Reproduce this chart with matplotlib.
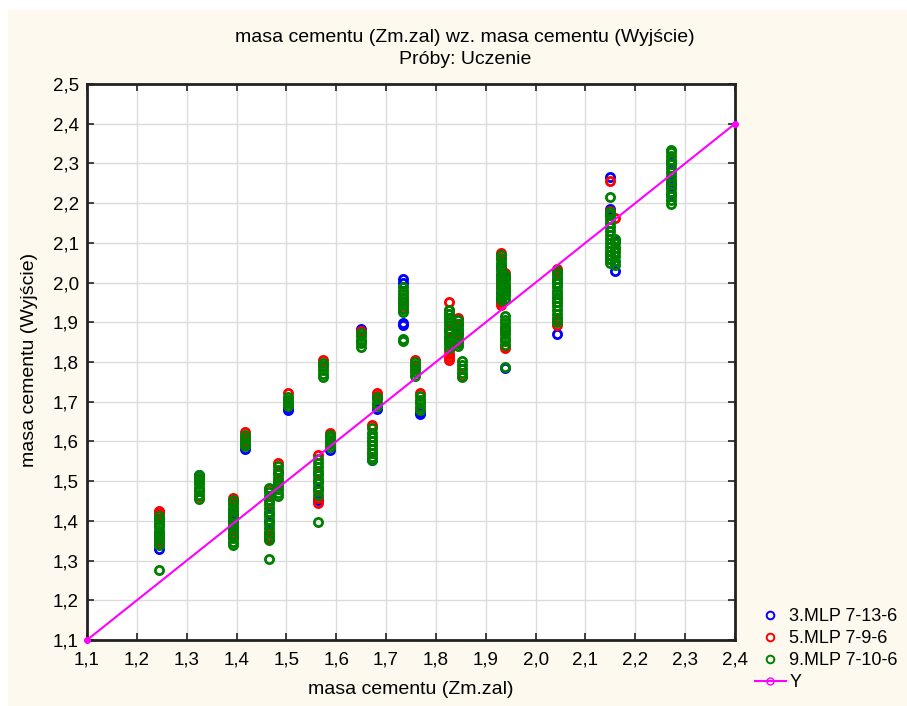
import numpy as np
import matplotlib
matplotlib.use('Agg')
import matplotlib.pyplot as plt
from matplotlib.lines import Line2D
from matplotlib.patches import Rectangle
from matplotlib.ticker import FuncFormatter, MultipleLocator

plt.rcParams['font.family'] = ['Liberation Sans', 'DejaVu Sans']

# x position of each column of points (target value)
col_x = [1.245, 1.325, 1.392, 1.417, 1.465, 1.484, 1.503, 1.563, 1.573, 1.587,
         1.649, 1.671, 1.681, 1.733, 1.759, 1.769, 1.826, 1.845, 1.852, 1.930,
         1.9385, 1.939, 2.042, 2.149, 2.159, 2.271]

# 9.MLP 7-10-6 (green)
green_y = [
    [1.338, 1.347, 1.356, 1.366, 1.375, 1.384, 1.393, 1.402, 1.412, 1.277],
    [1.456, 1.465, 1.474, 1.483, 1.492, 1.500, 1.508, 1.515],
    [1.338, 1.348, 1.357, 1.367, 1.376, 1.386, 1.395, 1.405, 1.414, 1.424, 1.433, 1.443, 1.452],
    [1.588, 1.597, 1.606, 1.615],
    [1.352, 1.362, 1.372, 1.382, 1.392, 1.402, 1.412, 1.422, 1.432, 1.442, 1.452, 1.462, 1.472, 1.483, 1.304],
    [1.462, 1.471, 1.480, 1.490, 1.499, 1.509, 1.518, 1.528, 1.538],
    [1.688, 1.697, 1.705, 1.712],
    [1.465, 1.475, 1.485, 1.495, 1.505, 1.515, 1.525, 1.535, 1.545, 1.555, 1.397],
    [1.762, 1.771, 1.780, 1.789, 1.798],
    [1.585, 1.594, 1.603, 1.612, 1.617],
    [1.838, 1.847, 1.856, 1.865, 1.874],
    [1.552, 1.562, 1.572, 1.582, 1.592, 1.602, 1.612, 1.622, 1.633],
    [1.690, 1.698, 1.706, 1.712],
    [1.925, 1.934, 1.943, 1.952, 1.961, 1.970, 1.979, 1.988, 1.853, 1.858],
    [1.765, 1.774, 1.783, 1.792, 1.801],
    [1.678, 1.687, 1.696, 1.705, 1.714],
    [1.835, 1.845, 1.854, 1.864, 1.873, 1.883, 1.892, 1.902, 1.911, 1.921, 1.930],
    [1.840, 1.849, 1.858, 1.867, 1.877, 1.886, 1.895, 1.905],
    [1.762, 1.772, 1.782, 1.792, 1.802],
    [1.955, 1.965, 1.974, 1.984, 1.993, 2.003, 2.012, 2.022, 2.031, 2.041, 2.050, 2.060, 2.070],
    [1.958, 1.968, 1.978, 1.989, 1.999, 2.009, 2.020],
    [1.843, 1.852, 1.861, 1.870, 1.879, 1.888, 1.897, 1.906, 1.915, 1.787],
    [1.900, 1.910, 1.920, 1.930, 1.940, 1.950, 1.960, 1.970, 1.980, 1.990, 2.000, 2.010, 2.020, 2.030],
    [2.050, 2.060, 2.070, 2.080, 2.090, 2.100, 2.110, 2.120, 2.130, 2.140, 2.150, 2.160, 2.170, 2.178, 2.216],
    [2.045, 2.055, 2.066, 2.077, 2.088, 2.099, 2.110],
    [2.198, 2.208, 2.218, 2.228, 2.238, 2.248, 2.258, 2.268, 2.278, 2.288, 2.298, 2.308, 2.318, 2.328, 2.335],
]

# 5.MLP 7-9-6 (red)
red_y = [
    [1.425, 1.418, 1.392, 1.372, 1.352, 1.343],
    [1.462, 1.478, 1.505],
    [1.458, 1.447, 1.430, 1.410, 1.385, 1.370],
    [1.624, 1.610, 1.600],
    [1.360, 1.370, 1.450, 1.480],
    [1.546, 1.500, 1.490],
    [1.721, 1.700],
    [1.567, 1.458, 1.445, 1.520],
    [1.805, 1.790],
    [1.621, 1.600],
    [1.878, 1.850],
    [1.641, 1.600, 1.570],
    [1.722, 1.715],
    [1.950, 1.935, 1.960],
    [1.806, 1.790],
    [1.722, 1.700],
    [1.950, 1.930, 1.900, 1.860, 1.820, 1.805, 1.812, 1.830],
    [1.910, 1.880, 1.850],
    [1.765],
    [2.075, 2.062, 2.000, 1.990, 1.950, 1.943],
    [2.024, 1.990],
    [1.835, 1.884, 1.840],
    [2.033, 2.025, 1.905, 1.893, 1.950],
    [2.256, 2.180, 2.070],
    [2.162, 2.087],
    [],
]

# 3.MLP 7-13-6 (blue)
blue_y = [
    [1.330, 1.341, 1.361, 1.405, 1.422],
    [1.516],
    [1.360, 1.380, 1.400, 1.418],
    [1.580, 1.590],
    [1.355, 1.400, 1.420],
    [1.520],
    [1.680, 1.685],
    [1.452, 1.480, 1.500],
    [],
    [1.578],
    [1.882],
    [1.552],
    [1.682],
    [2.009, 1.998, 1.893, 1.898],
    [],
    [1.668, 1.675],
    [1.880, 1.860, 1.920],
    [1.870, 1.895],
    [],
    [2.020, 2.040, 1.975, 1.960],
    [2.015, 1.980],
    [1.784],
    [1.870, 2.000, 1.960, 2.010],
    [2.267, 2.184, 2.170, 2.060],
    [2.030, 2.105],
    [2.300, 2.250, 2.240, 2.220],
]

line_x = [1.1, 2.4]
line_y = [1.1, 2.4]

series = [
    ('3.MLP 7-13-6', blue_y, '#0000FF'),
    ('5.MLP 7-9-6', red_y, '#FF0000'),
    ('9.MLP 7-10-6', green_y, '#008000'),
]

fig = plt.figure(figsize=(9.07, 7.06), dpi=100)
fig.patch.set_facecolor('white')
fig.patches.append(Rectangle((8 / 907, 0), 1, 1 - 10 / 706, transform=fig.transFigure,
                             facecolor='#FDF9EF', edgecolor='none', zorder=-10))

ax = fig.add_axes([87 / 907, 1 - 640 / 706, 648 / 907, 556 / 706])
ax.set_facecolor('white')

for name, ys, color in series:
    xs = np.concatenate([np.full(len(v), x) for x, v in zip(col_x, ys)])
    yv = np.concatenate([np.array(v, dtype=float) for v in ys])
    ax.plot(xs, yv, 'o', mfc='none', mec=color, ms=5.9, mew=2.0, label=name, zorder=3)

ax.plot(line_x, line_y, '-', color='#FF00FF', lw=1.5, marker='o', ms=4,
        mfc='#FF00FF', mec='#FF00FF', clip_on=False, zorder=4)

ax.set_xlim(1.1, 2.4)
ax.set_ylim(1.1, 2.5)
ax.xaxis.set_major_locator(MultipleLocator(0.1))
ax.yaxis.set_major_locator(MultipleLocator(0.1))
fmt = FuncFormatter(lambda v, p: f'{v:.1f}'.replace('.', ','))
ax.xaxis.set_major_formatter(fmt)
ax.yaxis.set_major_formatter(fmt)
ax.tick_params(direction='in', top=True, right=True, length=5, width=1.2,
               labelsize=13.5, colors='#222222', labelcolor='black')
ax.tick_params(axis='x', pad=8)
ax.tick_params(axis='y', pad=6)
ax.grid(True, color='#DCDCDC', lw=1)
ax.set_axisbelow(True)
for s in ax.spines.values():
    s.set_linewidth(2)
    s.set_color('#222222')

fig.text(465 / 907, 1 - 37 / 706, 'masa cementu (Zm.zal) wz. masa cementu (Wyjście)',
         ha='center', va='center', fontsize=14)
fig.text(465 / 907, 1 - 59 / 706, 'Próby: Uczenie', ha='center', va='center', fontsize=14)
fig.text(411 / 907, 1 - 690 / 706, 'masa cementu (Zm.zal)', ha='center', va='center', fontsize=14)
fig.text(30 / 907, 1 - 360 / 706, 'masa cementu (Wyjście)', ha='center', va='center',
         rotation=90, fontsize=14)

handles = [Line2D([], [], ls='none', marker='o', mfc='none', mec=c, ms=5.5, mew=1.4)
           for _, _, c in series]
handles.append(Line2D([], [], color='#FF00FF', lw=1.5, marker='o', ms=5, mfc='none', mec='#FF00FF'))
labels = [n for n, _, _ in series] + ['Y']
fig.legend(handles, labels, loc='upper left', bbox_to_anchor=(755 / 907, 1 - 608 / 706),
           frameon=False, fontsize=13, handlelength=1.7, handletextpad=0.2,
           labelspacing=0.28, borderpad=0, borderaxespad=0)

fig.savefig('out.png', dpi=100, facecolor=fig.get_facecolor())
